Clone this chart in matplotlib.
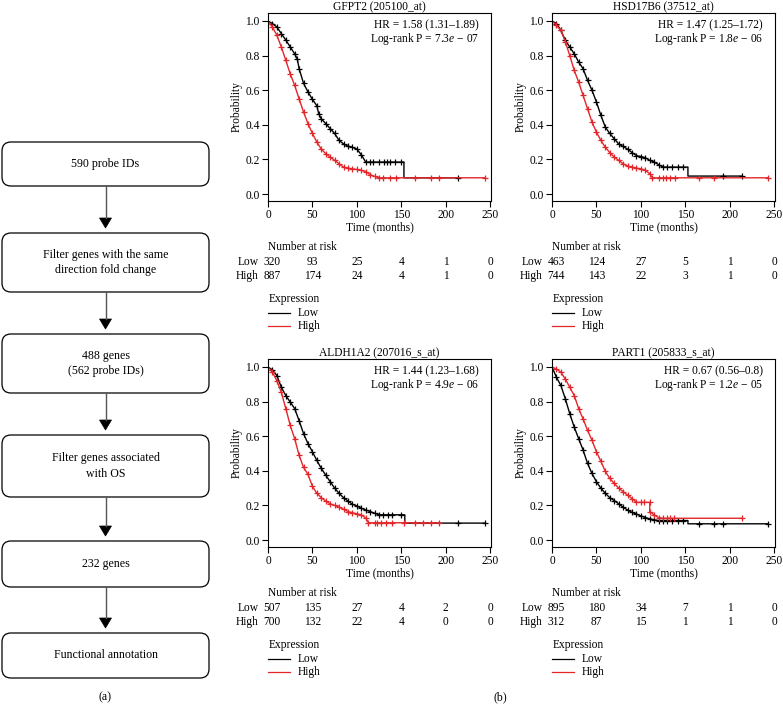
import numpy as np
import matplotlib
matplotlib.use("Agg")
from matplotlib import pyplot as plt
from matplotlib.patches import FancyBboxPatch, Polygon

plt.rcParams['font.family'] = ['Liberation Serif', 'DejaVu Serif']
plt.rcParams['mathtext.fontset'] = 'custom'
plt.rcParams['mathtext.rm'] = 'Liberation Serif'
plt.rcParams['mathtext.it'] = 'Liberation Serif:italic'
FS = 8.3

# ---- flowchart (a)
flow_labels = ["590 probe IDs",
               "Filter genes with the same\ndirection fold change",
               "488 genes\n(562 probe IDs)",
               "Filter genes associated\nwith OS",
               "232 genes",
               "Functional annotation"]

# ---- survival panels (b)
titles = ["GFPT2 (205100_at)", "HSD17B6 (37512_at)",
          "ALDH1A2 (207016_s_at)", "PART1 (205833_s_at)"]
hr_text = ["1.58 (1.31\u20131.89)", "1.47 (1.25\u20131.72)",
           "1.44 (1.23\u20131.68)", "0.67 (0.56\u20130.8)"]
p_mant = ["7.3", "1.8", "4.9", "1.2"]
p_exp = ["07", "06", "06", "05"]

# GFPT2
gf_low_t = [0, 5, 10, 15, 20, 25, 30, 33, 35, 40, 45, 50, 55, 57, 60, 65, 70, 75, 80, 85, 90, 95, 100, 105, 110, 153, 153, 214]
gf_low_s = [1.0, 0.985, 0.965, 0.927, 0.89, 0.85, 0.81, 0.78, 0.725, 0.64, 0.59, 0.547, 0.51, 0.465, 0.435, 0.407, 0.378, 0.35, 0.31, 0.29, 0.277, 0.27, 0.26, 0.227, 0.185, 0.185, 0.094, 0.094]
gf_low_c = [115, 118, 125, 131, 134, 137, 143, 150, 214]
gf_high_t = [0, 5, 10, 15, 20, 25, 30, 35, 40, 45, 50, 55, 60, 65, 70, 75, 80, 85, 90, 95, 100, 105, 110, 115, 120, 125, 244]
gf_high_s = [1.0, 0.965, 0.917, 0.85, 0.773, 0.695, 0.628, 0.55, 0.474, 0.407, 0.35, 0.30, 0.26, 0.233, 0.214, 0.195, 0.175, 0.156, 0.15, 0.146, 0.142, 0.137, 0.13, 0.112, 0.102, 0.094, 0.094]
gf_high_c = [130, 137, 144, 165, 183, 192, 244]

# HSD17B6
hs_low_t = [0, 5, 10, 15, 20, 25, 30, 35, 40, 45, 50, 55, 60, 65, 70, 75, 80, 85, 90, 95, 100, 105, 110, 115, 120, 125, 153, 153, 214]
hs_low_s = [1.0, 0.985, 0.946, 0.888, 0.85, 0.81, 0.763, 0.724, 0.657, 0.60, 0.532, 0.455, 0.387, 0.35, 0.32, 0.29, 0.275, 0.26, 0.24, 0.222, 0.217, 0.21, 0.195, 0.185, 0.17, 0.156, 0.156, 0.104, 0.104]
hs_low_c = [130, 135, 142, 148, 192, 214]
hs_high_t = [0, 5, 10, 15, 20, 25, 30, 35, 40, 45, 50, 55, 60, 65, 70, 75, 80, 85, 90, 95, 100, 105, 110, 113, 243]
hs_high_s = [1.0, 0.975, 0.946, 0.88, 0.80, 0.715, 0.647, 0.57, 0.493, 0.416, 0.358, 0.31, 0.27, 0.24, 0.214, 0.195, 0.175, 0.162, 0.156, 0.15, 0.146, 0.137, 0.118, 0.094, 0.094]
hs_high_c = [120, 125, 128, 133, 138, 165, 182, 243]

# ALDH1A2
al_low_t = [0, 5, 10, 15, 20, 25, 30, 35, 40, 45, 50, 55, 60, 65, 70, 75, 80, 85, 90, 95, 100, 105, 110, 115, 120, 125, 154, 154, 244]
al_low_s = [1.0, 0.983, 0.95, 0.883, 0.835, 0.797, 0.76, 0.69, 0.615, 0.557, 0.51, 0.46, 0.414, 0.375, 0.337, 0.30, 0.27, 0.245, 0.226, 0.207, 0.197, 0.184, 0.174, 0.165, 0.155, 0.146, 0.146, 0.098, 0.098]
al_low_c = [130, 135, 140, 150, 214, 244]
al_high_t = [0, 5, 10, 15, 20, 25, 30, 35, 40, 45, 50, 55, 60, 65, 70, 75, 80, 85, 90, 95, 100, 105, 110, 113, 192]
al_high_s = [1.0, 0.97, 0.92, 0.854, 0.76, 0.663, 0.586, 0.49, 0.42, 0.38, 0.31, 0.27, 0.245, 0.225, 0.21, 0.20, 0.19, 0.178, 0.165, 0.158, 0.152, 0.145, 0.128, 0.10, 0.10]
al_high_c = [120, 123, 127, 133, 140, 153, 165, 175, 183, 192]

# PART1
pa_low_t = [0, 5, 10, 15, 20, 25, 30, 35, 40, 45, 50, 55, 60, 65, 70, 75, 80, 85, 90, 95, 100, 105, 110, 115, 120, 153, 153, 243]
pa_low_s = [1.0, 0.94, 0.893, 0.816, 0.73, 0.653, 0.586, 0.52, 0.443, 0.385, 0.337, 0.30, 0.27, 0.245, 0.228, 0.21, 0.19, 0.174, 0.16, 0.15, 0.14, 0.13, 0.123, 0.117, 0.113, 0.113, 0.094, 0.094]
pa_low_c = [125, 130, 135, 142, 148, 165, 182, 192, 243]
pa_high_t = [0, 5, 10, 15, 20, 25, 30, 35, 40, 45, 50, 55, 60, 65, 70, 75, 80, 85, 90, 95, 110, 110, 115, 120, 125, 214]
pa_high_s = [1.0, 0.988, 0.97, 0.93, 0.883, 0.835, 0.76, 0.70, 0.634, 0.577, 0.51, 0.455, 0.397, 0.356, 0.328, 0.30, 0.28, 0.26, 0.24, 0.218, 0.218, 0.165, 0.146, 0.13, 0.126, 0.126]
pa_high_c = [100, 104, 130, 133, 137, 214]

risk_ticks = [0, 50, 100, 150, 200, 250]
risk_low = [[320, 93, 25, 4, 1, 0], [463, 124, 27, 5, 1, 0],
            [507, 135, 27, 4, 2, 0], [895, 180, 34, 7, 1, 0]]
risk_high = [[887, 174, 24, 4, 1, 0], [744, 143, 22, 3, 1, 0],
             [700, 132, 22, 4, 0, 0], [312, 87, 15, 1, 1, 0]]

curves = [((gf_low_t, gf_low_s, gf_low_c), (gf_high_t, gf_high_s, gf_high_c)),
          ((hs_low_t, hs_low_s, hs_low_c), (hs_high_t, hs_high_s, hs_high_c)),
          ((al_low_t, al_low_s, al_low_c), (al_high_t, al_high_s, al_high_c)),
          ((pa_low_t, pa_low_s, pa_low_c), (pa_high_t, pa_high_s, pa_high_c))]

RED = '#e3262a'
W, H = 783, 714
fig = plt.figure(figsize=(W / 100, H / 100), dpi=100)

# flowchart drawn in pixel coordinates
fa = fig.add_axes([0, 0, 1, 1])
fa.set_xlim(0, W)
fa.set_ylim(H, 0)
fa.axis('off')
box_y = [(142, 186), (233, 292), (334, 393), (435, 497), (541, 587), (633, 678)]
bx0, bx1 = 2, 209
cx = (bx0 + bx1) / 2
for (y0, y1), lab in zip(box_y, flow_labels):
    fa.add_patch(FancyBboxPatch((bx0 + 9, y0 + 9), bx1 - bx0 - 18, y1 - y0 - 18,
                                boxstyle="round,pad=9", fc='white', ec='black', lw=0.9))
    fa.text(cx, (y0 + y1) / 2, lab, ha='center', va='center', fontsize=8.6,
            linespacing=1.35)
for i in range(len(box_y) - 1):
    ytop = box_y[i][1]
    ytip = box_y[i + 1][0] - 5
    fa.plot([cx, cx], [ytop, ytip - 10], color='#555555', lw=1.0)
    fa.add_patch(Polygon([[cx - 6, ytip - 10], [cx + 6, ytip - 10], [cx, ytip]],
                         closed=True, fc='black', ec='black', lw=0.5))
fa.text(cx, 697, "(a)", ha='center', va='center', fontsize=8.6)
fa.text(500, 697, "(b)", ha='center', va='center', fontsize=8.6)

# survival axes
ax_pos = [(268, 13), (552, 13), (268, 359), (552, 359)]
aw, ah = 223, 188
for k, (px, py) in enumerate(ax_pos):
    ax = fig.add_axes([px / W, 1 - (py + ah) / H, aw / W, ah / H])
    for (t, s, c), col in zip(curves[k], ['black', RED]):
        t = np.array(t)
        s = np.array(s)
        ax.plot(t, s, color=col, lw=1.0)
        m = (t > 0) & (t <= 125)
        ax.plot(t[m], s[m], ls='none', marker='+', ms=5, mew=0.9, color=col)
        c = np.array(c)
        cs = s[np.searchsorted(t, c, side='right') - 1]
        ax.plot(c, cs, ls='none', marker='+', ms=5, mew=0.9, color=col)
    ax.set_xlim(0, 251)
    ax.set_ylim(-0.04, 1.046)
    ax.set_xticks(risk_ticks)
    ax.set_yticks([0, 0.2, 0.4, 0.6, 0.8, 1.0])
    ax.set_yticklabels(['0.0', '0.2', '0.4', '0.6', '0.8', '1.0'])
    ax.tick_params(direction='out', length=4, width=0.8, pad=2, labelsize=FS)
    for sp in ax.spines.values():
        sp.set_linewidth(0.8)
    ax.set_title(titles[k], fontsize=FS, pad=2)
    ax.set_xlabel("Time (months)", fontsize=FS, labelpad=0)
    ax.set_ylabel("Probability", fontsize=FS, labelpad=2)
    ax.text(0.945, 0.936, "HR = " + hr_text[k], transform=ax.transAxes,
            ha='right', va='center', fontsize=FS)
    ax.text(0.945, 0.862, "Log-rank P = " + p_mant[k] + r"$\it{e}$" + " \u2212 " + p_exp[k],
            transform=ax.transAxes, ha='right', va='center', fontsize=FS)

    tr = ax.get_xaxis_transform()
    ax.text(0, -0.245, "Number at risk", transform=tr, ha='left', va='center',
            fontsize=FS, clip_on=False)
    for row, (name, vals) in enumerate([("Low", risk_low[k]), ("High", risk_high[k])]):
        yy = -0.324 - row * 0.075
        ax.text(-11, yy, name, transform=tr, ha='right', va='center', fontsize=FS)
        for j, (xt, v) in enumerate(zip(risk_ticks, vals)):
            if j == 0:
                ax.text(-5, yy, str(v), transform=tr, ha='left', va='center', fontsize=FS)
            else:
                ax.text(xt, yy, str(v), transform=tr, ha='center', va='center', fontsize=FS)
    ax.text(1, -0.521, "Expression", transform=tr, ha='left', va='center', fontsize=FS)
    for row, (name, col) in enumerate([("Low", 'black'), ("High", RED)]):
        yy = -0.596 - row * 0.07
        ax.plot([0, 25], [yy, yy], transform=tr, color=col, lw=0.9, clip_on=False)
        ax.text(34, yy, name, transform=tr, ha='left', va='center', fontsize=FS)

fig.savefig("out.png", dpi=100)
